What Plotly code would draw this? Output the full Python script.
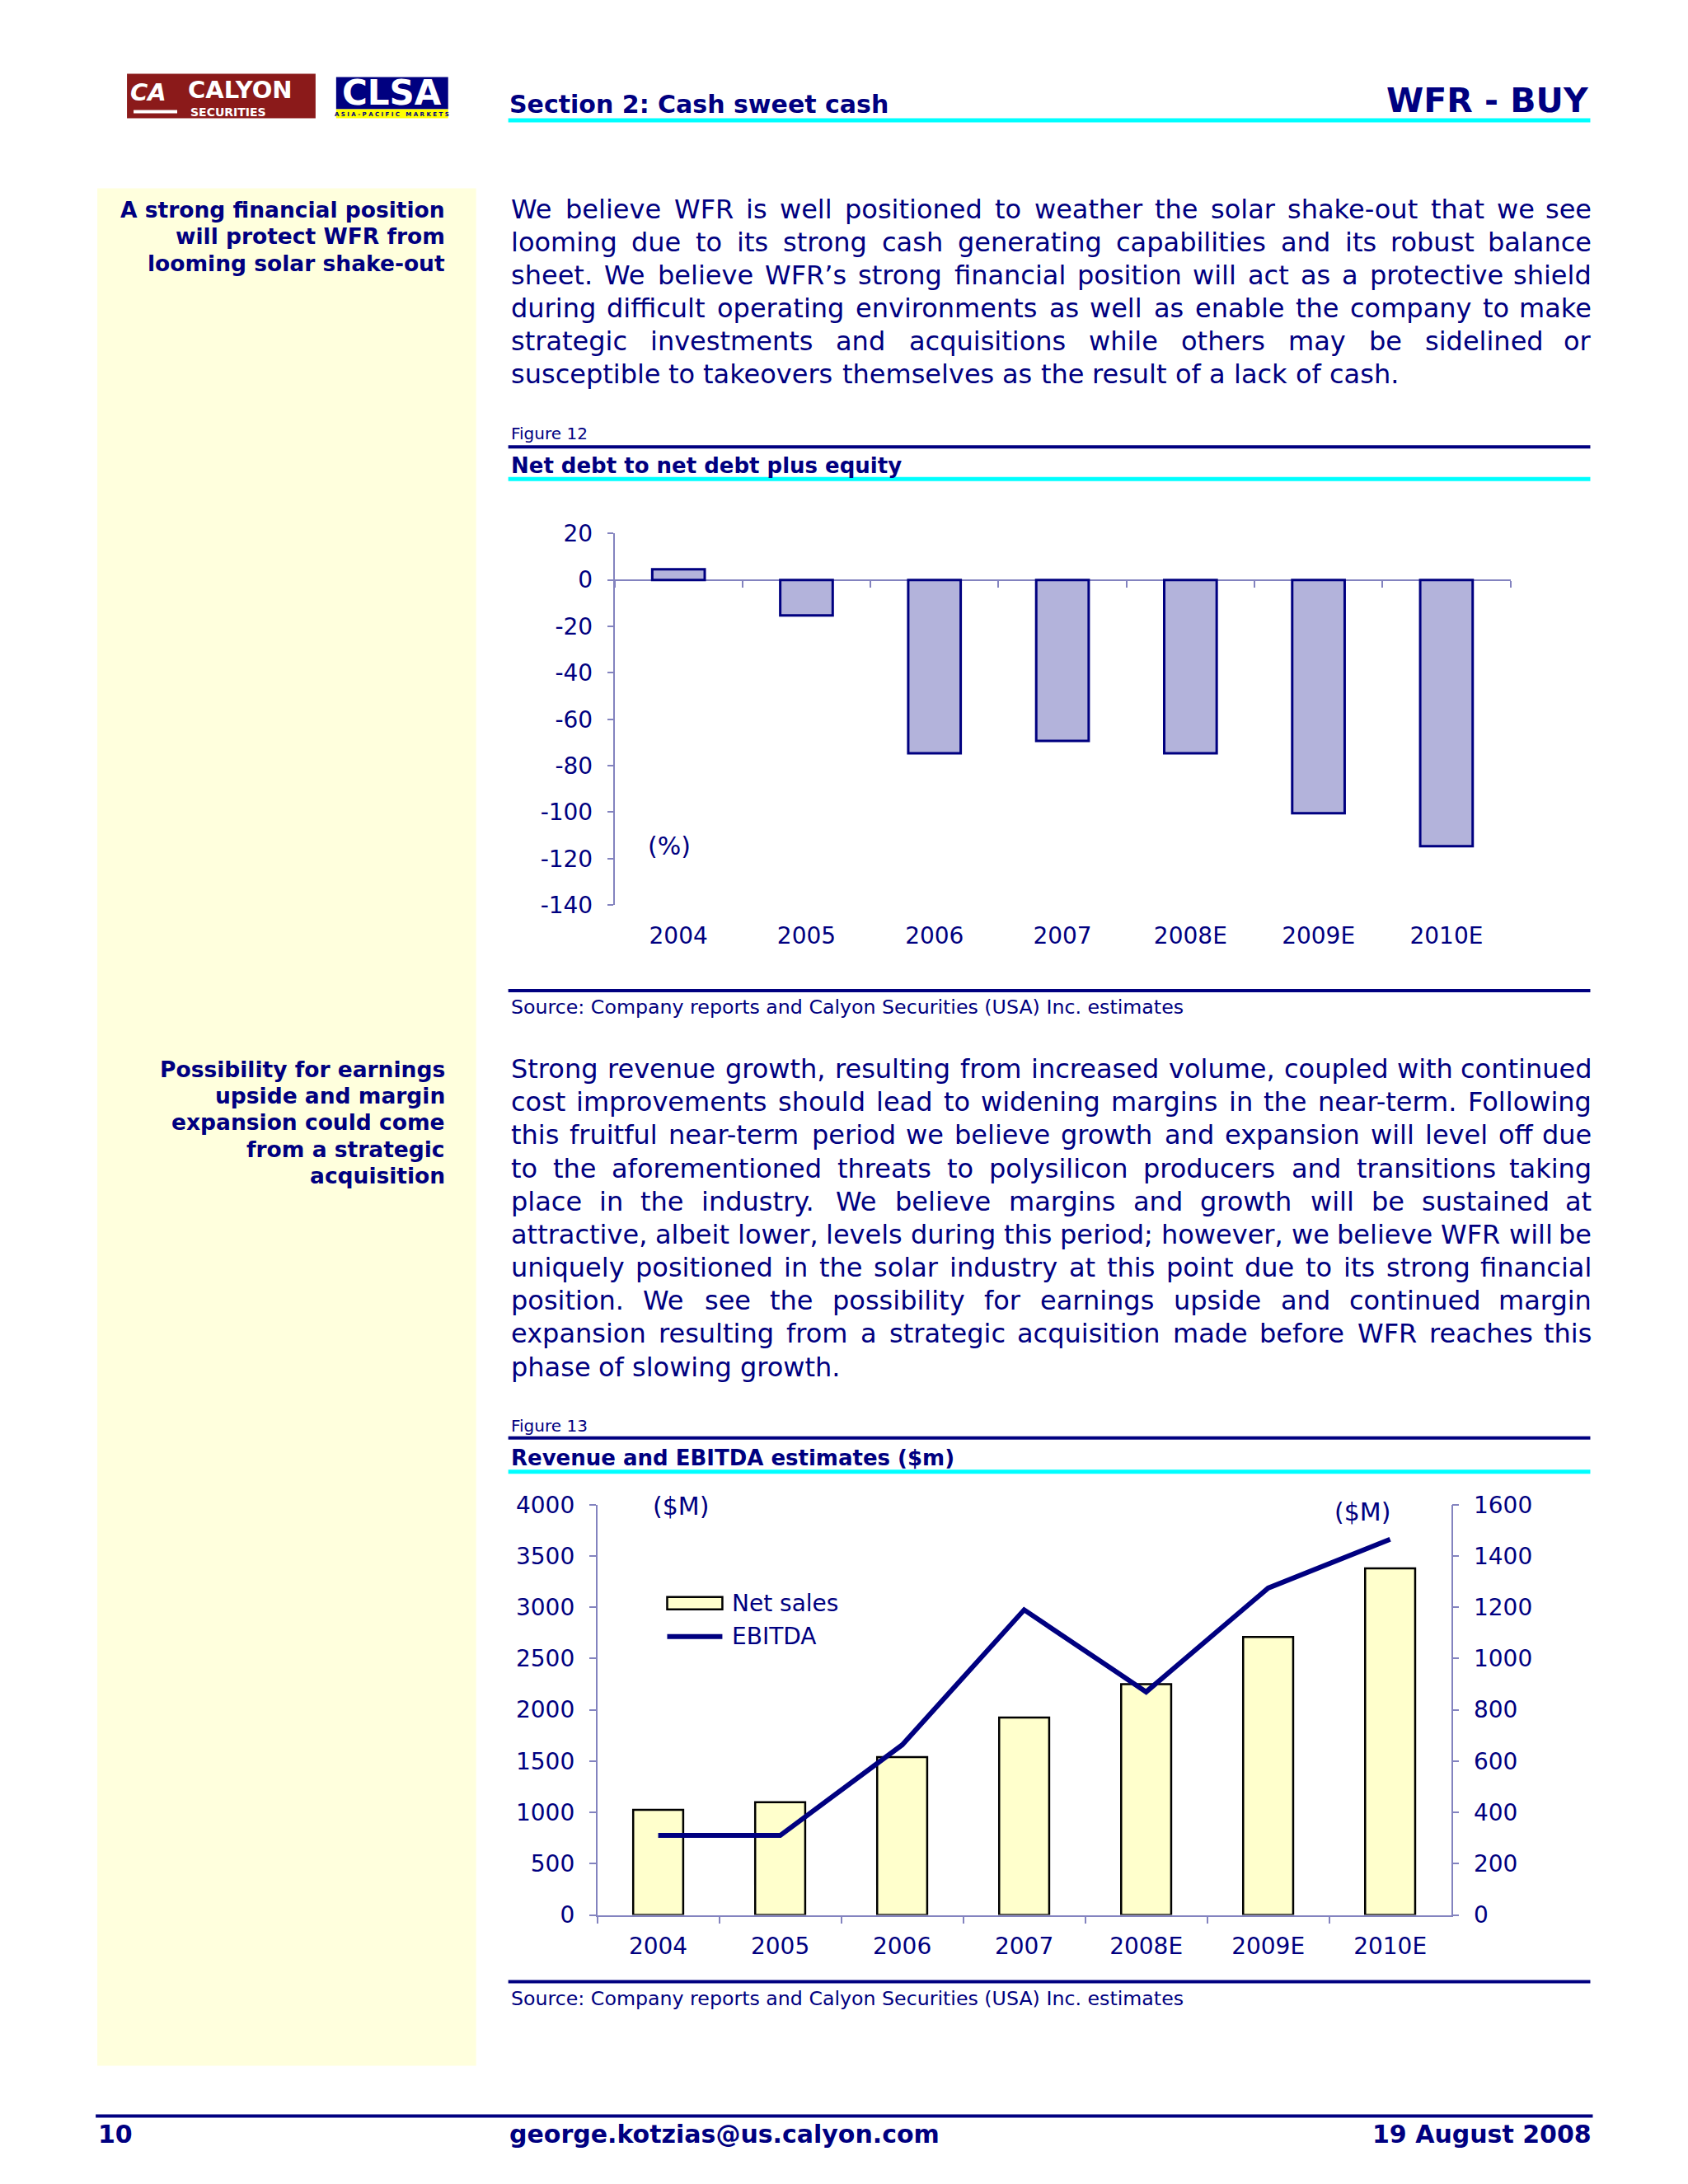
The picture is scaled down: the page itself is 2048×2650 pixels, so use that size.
import plotly.graph_objects as go

# ---------------- data ----------------
years = ['2004', '2005', '2006', '2007', '2008E', '2009E', '2010E']
net_debt_ratio = [4.6, -15.3, -74.7, -69.3, -74.7, -100.5, -114.7]
net_sales = [1025, 1100, 1540, 1925, 2250, 2710, 3380]
ebitda = [310, 310, 663, 1190, 870, 1275, 1465]

ratio_tickvals = [20, 0, -20, -40, -60, -80, -100, -120, -140]
ratio_ticktext = ['20', '0', '-20', '-40', '-60', '-80', '-100', '-120', '-140']
sales_tickvals = [0, 500, 1000, 1500, 2000, 2500, 3000, 3500, 4000]
ebitda_tickvals = [0, 200, 400, 600, 800, 1000, 1200, 1400, 1600]

para1 = [
    "We believe WFR is well positioned to weather the solar shake-out that we see",
    "looming due to its strong cash generating capabilities and its robust balance",
    "sheet. We believe WFR\u2019s strong financial position will act as a protective shield",
    "during difficult operating environments as well as enable the company to make",
    "strategic investments and acquisitions while others may be sidelined or",
    "susceptible to takeovers themselves as the result of a lack of cash.",
]
para2 = [
    "Strong revenue growth, resulting from increased volume, coupled with continued",
    "cost improvements should lead to widening margins in the near-term. Following",
    "this fruitful near-term period we believe growth and expansion will level off due",
    "to the aforementioned threats to polysilicon producers and transitions taking",
    "place in the industry. We believe margins and growth will be sustained at",
    "attractive, albeit lower, levels during this period; however, we believe WFR will be",
    "uniquely positioned in the solar industry at this point due to its strong financial",
    "position. We see the possibility for earnings upside and continued margin",
    "expansion resulting from a strategic acquisition made before WFR reaches this",
    "phase of slowing growth.",
]
side1 = ["A strong financial position", "will protect WFR from", "looming solar shake-out"]
side2 = ["Possibility for earnings", "upside and margin", "expansion could come",
         "from a strategic", "acquisition"]

# ---------------- page geometry ----------------
W, H = 2048, 2650
NAVY = '#000080'
AX = '#8383BF'
CYAN = '#00FFFF'
FONT = 'DejaVu Sans'

# empirical screen calibration (page offset of the rendered figure)
OX, SX = 6.8, 1.0009
OY, SY = 23.4, 0.9880


def px(x):
    return ((x - OX) / SX) / W


def py(y):
    return 1 - ((y - OY) / SY) / H


shapes = []
anns = []


def rect(x0, y0, x1, y1, fill, line=None, lw=0, layer='above'):
    shapes.append(dict(type='rect', xref='paper', yref='paper',
                       x0=px(x0), x1=px(x1), y0=py(y1), y1=py(y0),
                       fillcolor=fill, layer=layer,
                       line=dict(color=line if line else fill, width=lw)))


def hline(x0, x1, y, thick, color):
    rect(x0, y - thick / 2, x1, y + thick / 2, color)


def txt(x, y, s, size, bold=False, xanchor='left', color=NAVY, italic=False):
    anns.append(dict(x=px(x), y=py(y), xref='paper', yref='paper', text=s,
                     showarrow=False, xanchor=xanchor, yanchor='middle',
                     borderpad=0,
                     font=dict(family=FONT, size=size, color=color,
                               weight='bold' if bold else 'normal',
                               style='italic' if italic else 'normal')))


# DejaVu Sans advance widths (units per em = 2048)
CW = {' ': 651, ',': 651, '.': 651, '-': 739, ';': 690, ':': 690, "'": 563, '\u2019': 651,
      'A': 1401, 'B': 1405, 'C': 1430, 'D': 1577, 'E': 1294, 'F': 1178, 'G': 1587,
      'H': 1540, 'I': 604, 'J': 604, 'K': 1343, 'L': 1141, 'M': 1767, 'N': 1532,
      'O': 1612, 'P': 1235, 'Q': 1612, 'R': 1423, 'S': 1300, 'T': 1251, 'U': 1499,
      'V': 1401, 'W': 2025, 'X': 1403, 'Y': 1251, 'Z': 1403,
      'a': 1255, 'b': 1300, 'c': 1126, 'd': 1300, 'e': 1260, 'f': 721, 'g': 1300,
      'h': 1298, 'i': 569, 'j': 569, 'k': 1186, 'l': 569, 'm': 1995, 'n': 1298,
      'o': 1253, 'p': 1300, 'q': 1300, 'r': 842, 's': 1067, 't': 803, 'u': 1298,
      'v': 1212, 'w': 1675, 'x': 1212, 'y': 1212, 'z': 1075}


def tw(s, size):
    return sum(CW.get(c, 1303) for c in s) / 2048.0 * size


def justified(lines, x0, x1, y0, pitch, size):
    for i, line in enumerate(lines):
        y = y0 + i * pitch
        words = line.split(' ')
        widths = [tw(w, size) for w in words]
        last = (i == len(lines) - 1)
        if last or len(words) < 2:
            gap = tw(' ', size)
        else:
            gap = (x1 - x0 - sum(widths)) / (len(words) - 1)
        x = x0
        for j, (w, wd) in enumerate(zip(words, widths)):
            if (not last) and j == len(words) - 1:
                txt(x1, y, w, size, xanchor='right')
            else:
                txt(x, y, w, size)
            x += wd + gap


# ---------------- page furniture ----------------
# sidebar
rect(117, 228, 577, 2507, '#FFFFDD', layer='below')

# logos
rect(153, 89, 382, 143, '#8B1A1A')
txt(156, 111, 'CA', 29, bold=True, italic=True, color='white')
rect(161, 133, 214, 137, 'white')
txt(226, 108, 'CALYON', 29, bold=True, color='white')
txt(229, 135, 'SECURITIES', 14, bold=True, color='white')
rect(407, 93, 543, 132, NAVY)
rect(407, 132, 543, 143, '#FFFF00')
txt(475, 112, 'CLSA', 42, bold=True, color='white', xanchor='center')
txt(475, 138, 'A S I A - P A C I F I C   M A R K E T S', 7, bold=True, xanchor='center')

# header
txt(616, 126, 'Section 2: Cash sweet cash', 30, bold=True)
txt(1930, 121, 'WFR - BUY', 41, bold=True, xanchor='right')
hline(616, 1930, 145.5, 5, CYAN)

# sidebars text
for i, s in enumerate(side1):
    txt(540, 254 + i * 32.5, s, 26.5, bold=True, xanchor='right')
for i, s in enumerate(side2):
    txt(540, 1297 + i * 32.5, s, 26.5, bold=True, xanchor='right')

# body text
justified(para1, 618, 1933, 254, 40.0, 32)
justified(para2, 618, 1933, 1297, 40.2, 32)

# figure 12 header / footer
txt(618, 526, 'Figure 12', 20)
hline(616, 1930, 542, 4, NAVY)
txt(618, 565, 'Net debt to net debt plus equity', 26, bold=True)
hline(616, 1930, 581, 5, CYAN)
hline(616, 1930, 1202, 4, NAVY)
txt(618, 1222, 'Source: Company reports and Calyon Securities (USA) Inc. estimates', 23.7)

# figure 13 header / footer
txt(618, 1730, 'Figure 13', 20)
hline(616, 1930, 1745, 4, NAVY)
txt(618, 1769, 'Revenue and EBITDA estimates ($m)', 26, bold=True)
hline(616, 1930, 1786, 5, CYAN)
hline(616, 1930, 2405, 4, NAVY)
txt(618, 2426, 'Source: Company reports and Calyon Securities (USA) Inc. estimates', 23.7)

# page footer
hline(115, 1933, 2568, 4, NAVY)
txt(117, 2590, '10', 30, bold=True)
txt(616, 2590, 'george.kotzias@us.calyon.com', 30, bold=True)
txt(1933, 2590, '19 August 2008', 30, bold=True, xanchor='right')

# ---------------- charts ----------------
fig = go.Figure()

# chart 1 geometry
c1x = [px(745), px(1833)]
c1y = [py(1098), py(647)]
r1 = [ratio_tickvals[-1], ratio_tickvals[0]]
zero_pos = c1y[0] + (0 - r1[0]) / (r1[1] - r1[0]) * (c1y[1] - c1y[0])

fig.add_trace(go.Bar(x=years, y=net_debt_ratio, xaxis='x', yaxis='y', width=0.41,
                     marker=dict(color='#B3B3DB', line=dict(color=NAVY, width=3)),
                     showlegend=False, name='Net debt/(net debt+equity)'))
fig.add_trace(go.Scatter(x=years, y=net_debt_ratio, xaxis='x3', yaxis='y', mode='markers',
                         marker=dict(opacity=0), hoverinfo='skip', showlegend=False))

# chart 2 geometry
c2x = [px(724), px(1761)]
c2y = [py(2324), py(1826)]
fig.add_trace(go.Bar(x=years, y=net_sales, xaxis='x2', yaxis='y2', width=0.41,
                     marker=dict(color='#FFFFCC', line=dict(color='black', width=2.5)),
                     showlegend=False, name='Net sales'))
fig.add_trace(go.Scatter(x=years, y=ebitda, xaxis='x2', yaxis='y3', mode='lines',
                         line=dict(color=NAVY, width=6), showlegend=False, name='EBITDA'))

tickfont = dict(family=FONT, size=28, color=NAVY)

fig.update_layout(
    width=W, height=H, margin=dict(l=0, r=0, t=0, b=0),
    paper_bgcolor='white', plot_bgcolor='rgba(0,0,0,0)',
    xaxis=dict(domain=c1x, anchor='y', type='category', categoryorder='array',
               categoryarray=years, range=[-0.5, 6.5], showline=False, ticks='',
               showgrid=False, zeroline=False, tickfont=tickfont, ticklabelstandoff=18,
               fixedrange=True),
    xaxis3=dict(overlaying='x', anchor='free', position=zero_pos, type='category',
                categoryorder='array', categoryarray=years, range=[-0.5, 6.5],
                tickson='boundaries', ticks='outside', ticklen=8, tickwidth=1.5,
                tickcolor=AX, showticklabels=False, showline=False, showgrid=False,
                zeroline=False),
    yaxis=dict(domain=c1y, anchor='x', range=r1, tickvals=ratio_tickvals,
               ticktext=ratio_ticktext, showline=True, linecolor=AX, linewidth=1.5,
               ticks='outside', ticklen=7, tickwidth=1.5, tickcolor=AX,
               showgrid=False, zeroline=True, zerolinecolor=AX, zerolinewidth=1.5,
               tickfont=tickfont, ticklabelstandoff=12),
    xaxis2=dict(domain=c2x, anchor='y2', type='category', categoryorder='array',
                categoryarray=years, range=[-0.5, 6.5], showline=True, linecolor=AX,
                linewidth=1.5, tickson='boundaries', ticks='outside', ticklen=9,
                tickwidth=1.5, tickcolor=AX, showgrid=False, zeroline=False,
                tickfont=tickfont, ticklabelstandoff=12),
    yaxis2=dict(domain=c2y, anchor='x2', range=[0, 4000], tickvals=sales_tickvals,
                showline=True, linecolor=AX, linewidth=1.5, ticks='outside', ticklen=8,
                tickwidth=1.5, tickcolor=AX, showgrid=False, zeroline=False,
                tickfont=tickfont, ticklabelstandoff=12),
    yaxis3=dict(overlaying='y2', anchor='x2', side='right', range=[0, 1600],
                tickvals=ebitda_tickvals, showline=True, linecolor=AX, linewidth=1.5,
                ticks='outside', ticklen=8, tickwidth=1.5, tickcolor=AX,
                showgrid=False, zeroline=False, tickfont=tickfont, ticklabelstandoff=12),
    showlegend=False,
)

# chart unit labels
txt(812, 1026, '(%)', 30, xanchor='center')
txt(826, 1828, '($M)', 30, xanchor='center')
txt(1653, 1835, '($M)', 30, xanchor='center')

# custom legend for figure 13
rect(809, 1938, 876, 1953, '#FFFFCC', line='black', lw=2.5)
txt(887, 1946, 'Net sales', 28)
hline(809, 876, 1986, 6, NAVY)
txt(887, 1986, 'EBITDA', 28)

fig.update_layout(shapes=shapes, annotations=anns)
fig.write_html('out.html')
